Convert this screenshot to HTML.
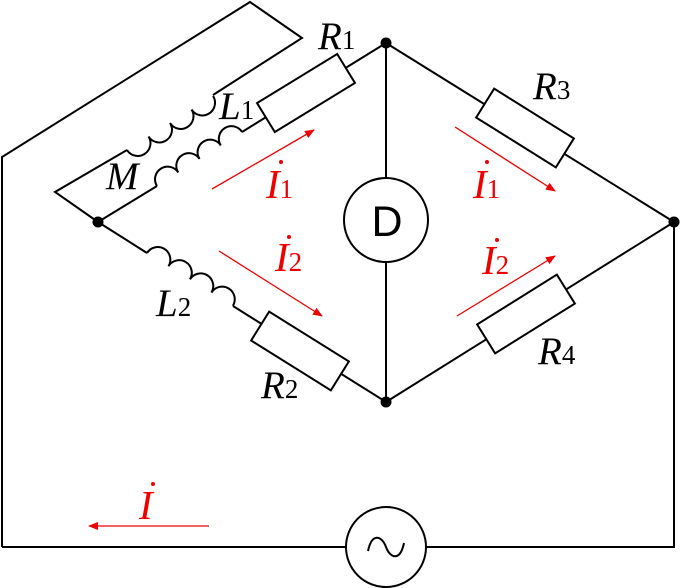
<!DOCTYPE html>
<html><head><style>body{margin:0;background:#fff}svg{display:block}</style></head><body>
<svg width="681" height="588" viewBox="0 0 681 588" xmlns="http://www.w3.org/2000/svg">
<defs><marker id="a" markerWidth="10" markerHeight="8" refX="9" refY="4" orient="auto" markerUnits="userSpaceOnUse"><path d="M0,0 L10,4 L0,8 z" fill="#e00"/></marker></defs>
<g fill="none" stroke="#000" stroke-width="2">
<polyline points="2,547 2,157 250,2 302,38 213,95"/>
<polyline points="127,150 55,192 98,222"/>
<g transform="translate(127,150) rotate(-32.1)"><path d="M0,0 a12.7,12.7 0 0 0 25.4,0 a12.7,12.7 0 0 0 25.4,0 a12.7,12.7 0 0 0 25.4,0 a12.7,12.7 0 0 0 25.4,0"/></g>
<line x1="98" y1="222" x2="157" y2="186"/>
<g transform="translate(157,186) rotate(-32.4)"><path d="M0,0 a12.6,12.6 0 0 1 25.2,0 a12.6,12.6 0 0 1 25.2,0 a12.6,12.6 0 0 1 25.2,0 a12.6,12.6 0 0 1 25.2,0"/></g>
<line x1="242" y1="132" x2="386" y2="43"/>
<line x1="98" y1="222" x2="147" y2="253"/>
<g transform="translate(147,253) rotate(31.6)"><path d="M0,0 a12.6,12.6 0 0 1 25.2,0 a12.6,12.6 0 0 1 25.2,0 a12.6,12.6 0 0 1 25.2,0 a12.6,12.6 0 0 1 25.2,0"/></g>
<line x1="233" y1="306" x2="386" y2="402"/>
<line x1="386" y1="43" x2="674" y2="222"/>
<line x1="386" y1="402" x2="674" y2="222"/>
<line x1="386" y1="43" x2="386" y2="402"/>
<polyline points="2,547 674,547 674,222"/>
</g>
<g fill="#fff" stroke="#000" stroke-width="2">
<g transform="translate(306,93) rotate(-31.5)"><rect x="-47" y="-17" width="94" height="34"/></g>
<g transform="translate(300,351) rotate(32)"><rect x="-47" y="-17" width="94" height="34"/></g>
<g transform="translate(525,128) rotate(32)"><rect x="-47" y="-17" width="94" height="34"/></g>
<g transform="translate(526,314) rotate(-32)"><rect x="-47" y="-17" width="94" height="34"/></g>
<circle cx="386" cy="220" r="42"/>
<circle cx="386" cy="547" r="40"/>
</g>
<text x="387" y="236" text-anchor="middle" font-family="Liberation Sans,sans-serif" font-size="43">D</text>
<path fill="none" stroke="#000" stroke-width="2" d="M368,551 C372,532 382,536 386,547 C390,558 400,562 404,543"/>
<circle cx="98" cy="222" r="5.5"/><circle cx="386" cy="43" r="5.5"/><circle cx="386" cy="402" r="5.5"/><circle cx="674" cy="222" r="5.5"/>
<g font-family="Liberation Serif,serif" font-style="italic" font-size="39">
<text x="318" y="49">R<tspan font-style="normal" font-size="27">1</tspan></text>
<text x="219" y="119">L<tspan font-style="normal" font-size="27">1</tspan></text>
<text x="106" y="189">M</text>
<text x="156" y="316">L<tspan font-style="normal" font-size="27">2</tspan></text>
<text x="261" y="398">R<tspan font-style="normal" font-size="27">2</tspan></text>
<text x="533" y="99">R<tspan font-style="normal" font-size="27">3</tspan></text>
<text x="538" y="364">R<tspan font-style="normal" font-size="27">4</tspan></text>
<g fill="#e00" font-size="41">
<text x="266" y="198">I<tspan font-style="normal" font-size="27">1</tspan></text>
<text x="275" y="271">I<tspan font-style="normal" font-size="27">2</tspan></text>
<text x="473" y="198">I<tspan font-style="normal" font-size="27">1</tspan></text>
<text x="482" y="274">I<tspan font-style="normal" font-size="27">2</tspan></text>
<text x="139" y="519">I</text>
</g>
</g>
<g fill="#e00">
<circle cx="281" cy="162" r="2"/><circle cx="289" cy="237" r="2"/><circle cx="487" cy="162" r="2"/><circle cx="497" cy="240" r="2"/><circle cx="153" cy="484" r="2"/>
</g>
<g stroke="#e00" stroke-width="1.3" marker-end="url(#a)">
<line x1="212" y1="189" x2="314" y2="130"/>
<line x1="219" y1="251" x2="322" y2="316"/>
<line x1="455" y1="127" x2="555" y2="191"/>
<line x1="457" y1="316" x2="555" y2="256"/>
<line x1="209" y1="526" x2="89" y2="526"/>
</g>
</svg>
</body></html>
